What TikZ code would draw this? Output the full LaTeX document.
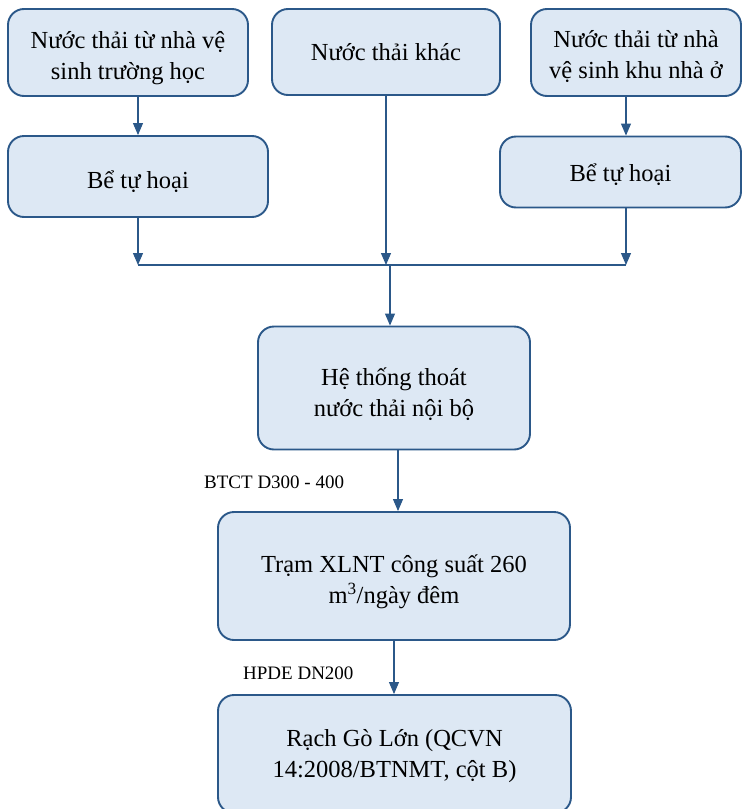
\documentclass[tikz,border=0pt]{standalone}
\usepackage{fontspec}
\setmainfont{Liberation Serif}
\usetikzlibrary{arrows.meta}
\definecolor{edgeblue}{HTML}{2B5889}
\definecolor{boxfill}{HTML}{DDE8F4}
\tikzset{
  flowbox/.style={draw=edgeblue, fill=boxfill, line width=1.9pt, rounded corners=16pt,
    inner sep=0pt},
  boxtext/.style={inner sep=0pt, align=center, font=\fontsize{24.5}{31}\selectfont, text=black},
  flow/.style={draw=edgeblue, line width=1.1pt},
  flowarrow/.style={flow, -{Triangle[width=10pt,length=12pt]}},
  pipelabel/.style={font=\fontsize{19}{22}\selectfont, inner sep=0pt, anchor=west}
}
\begin{document}
\begin{tikzpicture}[x=1pt,y=-1pt]
  \useasboundingbox (0,0) rectangle (745,809);
  \clip (0,0) rectangle (745,809);
  % sources
  \node[flowbox, minimum width=240pt, minimum height=87pt] (school) at (128,52.5) {};
  \node[boxtext] (schoolT) at ([yshift=-6pt]school.center) {Nước thải từ nhà vệ\\sinh trường học};
  \node[flowbox, minimum width=228pt, minimum height=86pt] (other) at (386,52) {};
  \node[boxtext] (otherT) at (other.center) {Nước thải khác};
  \node[flowbox, minimum width=210pt, minimum height=87pt] (house) at (636,52.5) {};
  \node[boxtext] (houseT) at ([yshift=-4pt]house.center) {Nước thải từ nhà\\vệ sinh khu nhà ở};
  % septic tanks
  \node[flowbox, minimum width=260pt, minimum height=81pt] (tankL) at (138,176.5) {};
  \node[boxtext] (tankLT) at ([yshift=-5pt]tankL.center) {Bể tự hoại};
  \node[flowbox, minimum width=241pt, minimum height=71pt] (tankR) at (620.5,172) {};
  \node[boxtext] (tankRT) at ([yshift=-3pt]tankR.center) {Bể tự hoại};
  % internal drainage
  \node[flowbox, minimum width=272pt, minimum height=123pt] (drain) at (394,388) {};
  \node[boxtext] (drainT) at ([yshift=-6pt]drain.center) {Hệ thống thoát\\nước thải nội bộ};
  % treatment plant
  \node[flowbox, minimum width=352pt, minimum height=128pt] (plant) at (394,576) {};
  \node[boxtext] (plantT) at ([yshift=-6pt]plant.center) {Trạm XLNT công suất 260\\m\textsuperscript{3}/ngày đêm};
  % receiving water, running past the lower edge
  \node[flowbox, minimum width=353pt, minimum height=118pt] (river) at (394.5,754) {};
  \node[boxtext] (riverT) at ([yshift=-2pt]river.center) {Rạch Gò Lớn (QCVN\\14:2008/BTNMT, cột B)};

  % collector line
  \coordinate (jL) at (138,265);
  \coordinate (jM) at (386,265);
  \coordinate (jR) at (626,265);
  \coordinate (jD) at (390,265);
  \draw[flow] (jL) -- (jR);

  \draw[flowarrow] (school.south -| 138,0) -- (tankL.north -| 138,0);
  \draw[flowarrow] (house.south -| 626,0) -- (tankR.north -| 626,0);
  \draw[flowarrow] (tankL.south -| jL) -- (jL);
  \draw[flowarrow] (other.south -| jM) -- (jM);
  \draw[flowarrow] (tankR.south -| jR) -- (jR);
  \draw[flowarrow] (jD) -- (drain.north -| jD);
  \draw[flowarrow] (drain.south -| 398,0) -- (plant.north -| 398,0);
  \draw[flowarrow] (plant.south -| 394,0) -- (river.north -| 394,0);

  % pipe labels
  \node[pipelabel] (lab1) at (204,482) {BTCT D300 - 400};
  \node[pipelabel] (lab2) at (243,673) {HPDE DN200};
\end{tikzpicture}
\end{document}
